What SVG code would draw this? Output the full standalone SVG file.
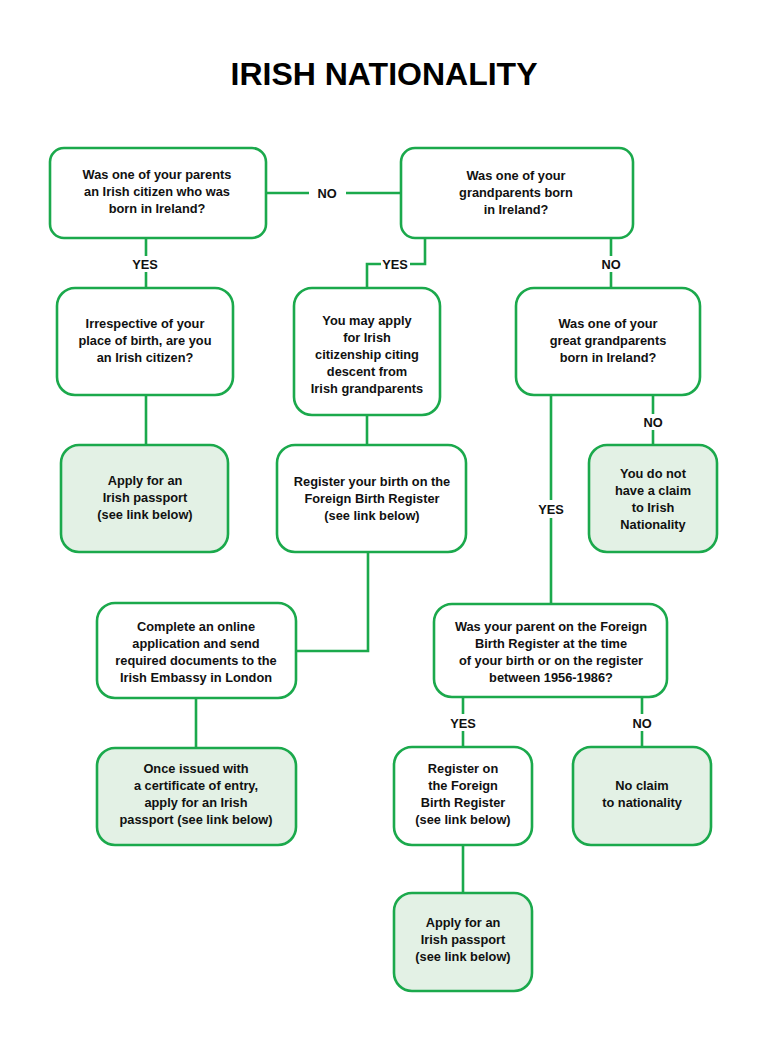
<svg xmlns="http://www.w3.org/2000/svg" width="768" height="1048" viewBox="0 0 768 1048">
<style>
.n rect{fill:#ffffff;stroke:#1ba94c;stroke-width:2.6}
.n.f rect{fill:#e3f1e5}
.n text,.lbl{font-family:"Liberation Sans",Arial,sans-serif;font-weight:bold;font-size:12.8px;fill:#111;text-anchor:middle}
.c path{fill:none;stroke:#1ba94c;stroke-width:2.6}
.title{font-family:"Liberation Sans",Arial,sans-serif;font-weight:bold;font-size:32px;fill:#000;text-anchor:middle}
</style>
<rect width="768" height="1048" fill="#fff"/>
<text class="title" x="384" y="85">IRISH NATIONALITY</text>

<g class="c" id="connectors">
<path d="M266 193H309M346 193H401"/>
<path d="M146 238V256M146 272V288"/>
<path d="M425 238V264H410M381 264H367V288"/>
<path d="M611 238V256M611 272V288"/>
<path d="M146 395V445"/>
<path d="M367 415V445"/>
<path d="M368 552V651H296"/>
<path d="M196 698V748"/>
<path d="M551 395V500M551 518V604"/>
<path d="M653 395V414M653 430V445"/>
<path d="M463 697V714M463 731V747"/>
<path d="M642 697V714M642 731V747"/>
<path d="M463 845V893"/>
</g>
<g id="edge-labels">
<text class="lbl" x="327" y="198">NO</text>
<text class="lbl" x="145" y="269">YES</text>
<text class="lbl" x="395" y="269">YES</text>
<text class="lbl" x="611" y="269">NO</text>
<text class="lbl" x="653" y="427">NO</text>
<text class="lbl" x="551" y="514">YES</text>
<text class="lbl" x="463" y="728">YES</text>
<text class="lbl" x="642" y="728">NO</text>
</g>

<g class="n" id="q-parent">
<rect x="50" y="148" width="216" height="90" rx="14"/>
<text x="157" y="179">Was one of your parents</text>
<text x="157" y="196">an Irish citizen who was</text>
<text x="157" y="213">born in Ireland?</text>
</g>
<g class="n" id="q-grandparent">
<rect x="401" y="148" width="232" height="90" rx="14"/>
<text x="516" y="180">Was one of your</text>
<text x="516" y="197">grandparents born</text>
<text x="516" y="214">in Ireland?</text>
</g>
<g class="n" id="q-citizen">
<rect x="57" y="288" width="176" height="107" rx="18"/>
<text x="145" y="328">Irrespective of your</text>
<text x="145" y="345">place of birth, are you</text>
<text x="145" y="362">an Irish citizen?</text>
</g>
<g class="n" id="may-apply">
<rect x="294" y="288" width="146" height="127" rx="18"/>
<text x="367" y="325">You may apply</text>
<text x="367" y="342">for Irish</text>
<text x="367" y="359">citizenship citing</text>
<text x="367" y="376">descent from</text>
<text x="367" y="393">Irish grandparents</text>
</g>
<g class="n" id="q-great">
<rect x="516" y="288" width="184" height="107" rx="18"/>
<text x="608" y="328">Was one of your</text>
<text x="608" y="345">great grandparents</text>
<text x="608" y="362">born in Ireland?</text>
</g>
<g class="n f" id="apply-1">
<rect x="61" y="445" width="167" height="107" rx="18"/>
<text x="145" y="485">Apply for an</text>
<text x="145" y="502">Irish passport</text>
<text x="145" y="519">(see link below)</text>
</g>
<g class="n" id="register-birth">
<rect x="277" y="445" width="189" height="107" rx="18"/>
<text x="372" y="486">Register your birth on the</text>
<text x="372" y="503">Foreign Birth Register</text>
<text x="372" y="520">(see link below)</text>
</g>
<g class="n f" id="no-claim-1">
<rect x="589" y="445" width="128" height="107" rx="18"/>
<text x="653" y="478">You do not</text>
<text x="653" y="495">have a claim</text>
<text x="653" y="512">to Irish</text>
<text x="653" y="529">Nationality</text>
</g>
<g class="n" id="complete-online">
<rect x="97" y="603" width="199" height="95" rx="18"/>
<text x="196" y="631">Complete an online</text>
<text x="196" y="648">application and send</text>
<text x="196" y="665">required documents to the</text>
<text x="196" y="682">Irish Embassy in London</text>
</g>
<g class="n" id="q-fbr">
<rect x="434" y="604" width="233" height="93" rx="18"/>
<text x="551" y="631">Was your parent on the Foreign</text>
<text x="551" y="648">Birth Register at the time</text>
<text x="551" y="665">of your birth or on the register</text>
<text x="551" y="682">between 1956-1986?</text>
</g>
<g class="n f" id="once-issued">
<rect x="97" y="748" width="199" height="97" rx="18"/>
<text x="196" y="773">Once issued with</text>
<text x="196" y="790">a certificate of entry,</text>
<text x="196" y="807">apply for an Irish</text>
<text x="196" y="824">passport (see link below)</text>
</g>
<g class="n" id="register-on">
<rect x="394" y="747" width="138" height="98" rx="18"/>
<text x="463" y="773">Register on</text>
<text x="463" y="790">the Foreign</text>
<text x="463" y="807">Birth Register</text>
<text x="463" y="824">(see link below)</text>
</g>
<g class="n f" id="no-claim-2">
<rect x="573" y="747" width="138" height="98" rx="18"/>
<text x="642" y="790">No claim</text>
<text x="642" y="807">to nationality</text>
</g>
<g class="n f" id="apply-2">
<rect x="394" y="893" width="138" height="98" rx="18"/>
<text x="463" y="927">Apply for an</text>
<text x="463" y="944">Irish passport</text>
<text x="463" y="961">(see link below)</text>
</g>
</svg>
